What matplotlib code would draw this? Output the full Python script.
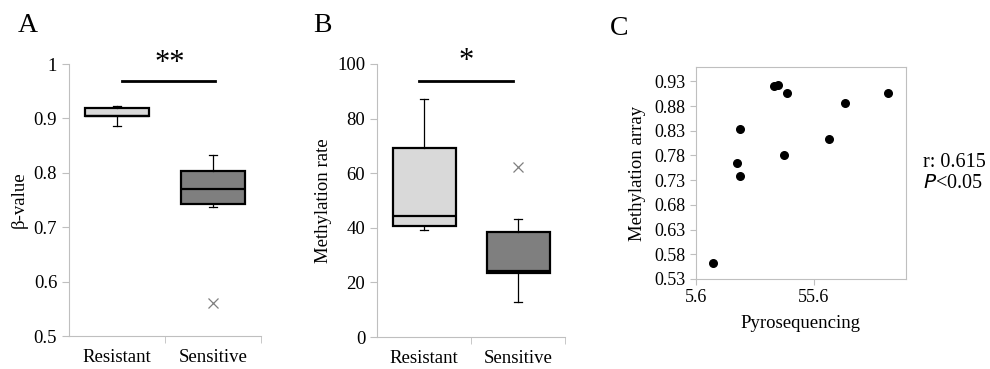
import numpy as np
import matplotlib.pyplot as plt

plt.rcParams['font.family'] = ['Liberation Serif', 'DejaVu Serif']

groups = ['Resistant', 'Sensitive']
box_colors = ['#d9d9d9', '#7f7f7f']

# panel A: beta-value box stats (low whisker, q1, median, q3, high whisker, outliers)
a_low = [0.886, 0.737]
a_q1 = [0.904, 0.743]
a_med = [0.905, 0.771]
a_q3 = [0.919, 0.804]
a_high = [0.923, 0.832]
a_fliers = [[], [0.561]]

# panel B: methylation rate box stats
b_low = [39.3, 12.9]
b_q1 = [40.7, 23.6]
b_med = [44.2, 24.0]
b_q3 = [69.3, 38.6]
b_high = [87.3, 43.1]
b_fliers = [[], [62.4]]

# panel C: pyrosequencing vs methylation array
pyro = [12.8, 23.0, 24.1, 24.4, 38.8, 40.3, 44.0, 43.0, 62.2, 69.0, 87.1]
array_vals = [0.563, 0.764, 0.738, 0.833, 0.920, 0.923, 0.906, 0.780, 0.814, 0.886, 0.906]

grey = '#bfbfbf'
fs = 13.5

fig = plt.figure(figsize=(9.9, 3.69), dpi=100)


def box_panel(ax, low, q1, med, q3, high, fliers):
    stats = []
    for i in range(len(groups)):
        stats.append({'whislo': low[i], 'q1': q1[i], 'med': med[i], 'q3': q3[i],
                      'whishi': high[i], 'fliers': fliers[i], 'label': groups[i]})
    bp = ax.bxp(stats, positions=[1, 2], widths=0.67, patch_artist=True,
                capwidths=0.09,
                boxprops=dict(edgecolor='black', linewidth=1.6),
                medianprops=dict(color='black', linewidth=1.6),
                whiskerprops=dict(color='black', linewidth=0.9),
                capprops=dict(color='black', linewidth=0.9),
                flierprops=dict(marker='x', markeredgecolor='#7f7f7f',
                                markersize=7, markeredgewidth=0.9))
    for patch, c in zip(bp['boxes'], box_colors):
        patch.set_facecolor(c)
    ax.set_xlim(0.5, 2.5)
    ax.spines['top'].set_visible(False)
    ax.spines['right'].set_visible(False)
    for s in ['left', 'bottom']:
        ax.spines[s].set_color(grey)
    ax.set_xticks([1, 2])
    ax.set_xticklabels(groups, fontsize=fs)
    ax.set_xticks([1.5, 2.5], minor=True)
    ax.tick_params(axis='x', which='major', length=0, pad=9)
    ax.tick_params(axis='x', which='minor', length=5, color=grey)
    ax.tick_params(axis='y', length=5, color=grey, labelsize=fs)


# Panel A
axA = fig.add_axes([0.0697, 0.0894, 0.194, 0.737])
box_panel(axA, a_low, a_q1, a_med, a_q3, a_high, a_fliers)
axA.set_ylim(0.5, 1.0)
axA.set_yticks([0.5, 0.6, 0.7, 0.8, 0.9, 1.0])
axA.set_yticklabels(['0.5', '0.6', '0.7', '0.8', '0.9', '1'])
axA.set_ylabel('β-value', fontsize=fs, labelpad=4)
axA.plot([1.05, 2.02], [0.969, 0.969], color='black', lw=2, clip_on=False)
axA.text(1.55, 0.975, '**', ha='center', va='bottom', fontsize=22, clip_on=False)
fig.text(0.018, 0.913, 'A', fontsize=20)

# Panel B
axB = fig.add_axes([0.3808, 0.0867, 0.19, 0.74])
box_panel(axB, b_low, b_q1, b_med, b_q3, b_high, b_fliers)
axB.set_ylim(0, 100)
axB.set_yticks([0, 20, 40, 60, 80, 100])
axB.set_ylabel('Methylation rate', fontsize=fs, labelpad=4)
axB.plot([0.95, 1.95], [93.8, 93.8], color='black', lw=2, clip_on=False)
axB.text(1.45, 95.5, '*', ha='center', va='bottom', fontsize=22, clip_on=False)
fig.text(0.316, 0.913, 'B', fontsize=20)

# Panel C
axC = fig.add_axes([0.703, 0.244, 0.212, 0.5745])
axC.scatter(pyro, array_vals, s=30, color='black', zorder=3)
axC.set_xlim(5.6, 94.6)
axC.set_ylim(0.53, 0.959)
axC.set_xticks([5.6, 55.6])
axC.set_xticklabels(['5.6', '55.6'])
yt = [0.53, 0.58, 0.63, 0.68, 0.73, 0.78, 0.83, 0.88, 0.93]
axC.set_yticks(yt)
axC.set_yticklabels(['%.2f' % v for v in yt])
for s in axC.spines.values():
    s.set_color(grey)
axC.tick_params(length=4, color=grey, labelsize=13)
axC.set_xlabel('Pyrosequencing', fontsize=fs, labelpad=6)
axC.set_ylabel('Methylation array', fontsize=fs, labelpad=6)
fig.text(0.932, 0.548, 'r: 0.615', fontsize=14.5)
fig.text(0.932, 0.49, '$\\it{P}$<0.05', fontsize=14.5)
fig.text(0.616, 0.905, 'C', fontsize=20)

fig.savefig('out.png', dpi=100)
